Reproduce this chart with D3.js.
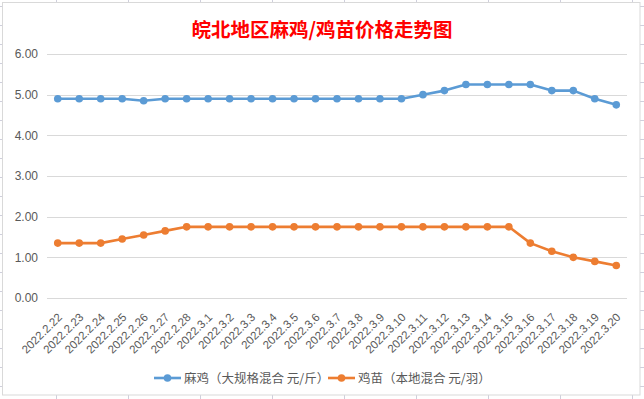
<!DOCTYPE html>
<html>
<head>
<meta charset="utf-8">
<script src="https://cdn.jsdelivr.net/npm/d3@7"></script>
<style>
    body { margin: 0; background: #ffffff; }
    svg text { font-family: "Liberation Sans", Arial, "Noto Sans CJK SC", sans-serif; }
    .grid line { stroke: #d9d9d9; stroke-width: 1; }
    .axisLabel { fill: #595959; font-size: 12px; }
    .legendText { fill: #595959; font-size: 12.5px; font-family: "Noto Sans CJK SC", sans-serif; }
</style>
</head>
<body>
<svg id="chart"></svg>
<script>
var dates = ["2022.2.22", "2022.2.23", "2022.2.24", "2022.2.25", "2022.2.26", "2022.2.27", "2022.2.28",
    "2022.3.1", "2022.3.2", "2022.3.3", "2022.3.4", "2022.3.5", "2022.3.6", "2022.3.7", "2022.3.8",
    "2022.3.9", "2022.3.10", "2022.3.11", "2022.3.12", "2022.3.13", "2022.3.14", "2022.3.15",
    "2022.3.16", "2022.3.17", "2022.3.18", "2022.3.19", "2022.3.20"];
var majiPrices = [4.9, 4.9, 4.9, 4.9, 4.85, 4.9, 4.9,
    4.9, 4.9, 4.9, 4.9, 4.9, 4.9, 4.9, 4.9, 4.9, 4.9,
    5.0, 5.1, 5.25, 5.25, 5.25, 5.25, 5.1, 5.1, 4.9, 4.75];
var jimiaoPrices = [1.35, 1.35, 1.35, 1.45, 1.55, 1.65, 1.75,
    1.75, 1.75, 1.75, 1.75, 1.75, 1.75, 1.75, 1.75, 1.75, 1.75,
    1.75, 1.75, 1.75, 1.75, 1.75, 1.35, 1.15, 1.0, 0.9, 0.8];
var yTicks = [0, 1, 2, 3, 4, 5, 6];
var seriesNames = ["麻鸡（大规格混合 元/斤）", "鸡苗（本地混合 元/羽）"];
var seriesColors = ["#5b9bd5", "#ed7d31"];

var W = 644, H = 399;

var svg = d3.select("#chart")
    .attr("width", W)
    .attr("height", H);

// spreadsheet cells peeking out around the chart
var sheet = svg.append("g").attr("stroke", "#cfcfdc").attr("stroke-width", 1);
d3.range(56.5, W, 72).forEach(function(x) {
    sheet.append("line").attr("x1", x).attr("x2", x).attr("y1", 0).attr("y2", 2);
    sheet.append("line").attr("x1", x).attr("x2", x).attr("y1", 395).attr("y2", H);
});
d3.range(6.5, H, 19).forEach(function(y) {
    sheet.append("line").attr("x1", 0).attr("x2", 2).attr("y1", y).attr("y2", y);
    sheet.append("line").attr("x1", 640).attr("x2", W).attr("y1", y).attr("y2", y);
});

svg.append("rect")
    .attr("x", 2.5)
    .attr("y", 2.5)
    .attr("width", 637.5)
    .attr("height", 392.5)
    .attr("fill", "#ffffff")
    .attr("stroke", "#d9d9d9");

svg.append("text")
    .attr("x", 322)
    .attr("y", 37)
    .attr("text-anchor", "middle")
    .style("font-family", "'Noto Sans CJK SC', sans-serif")
    .style("font-size", "19.5px")
    .style("font-weight", "bold")
    .attr("fill", "#ff0000")
    .text("皖北地区麻鸡/鸡苗价格走势图");

var x = d3.scalePoint()
    .domain(dates)
    .range([47, 627])
    .padding(0.5);

var y = d3.scaleLinear()
    .domain([0, 6])
    .range([298, 54]);

var grid = svg.append("g").attr("class", "grid");
grid.selectAll("line")
    .data(yTicks)
    .enter().append("line")
    .attr("x1", 47)
    .attr("x2", 627)
    .attr("y1", function(d) { return Math.round(y(d)) + 0.5; })
    .attr("y2", function(d) { return Math.round(y(d)) + 0.5; });

var yAxis = d3.axisLeft(y)
    .tickValues(yTicks)
    .tickFormat(d3.format(".2f"))
    .tickSize(0)
    .tickPadding(9);

svg.append("g")
    .attr("transform", "translate(47,0)")
    .call(yAxis)
    .call(function(g) { g.select(".domain").remove(); })
    .selectAll("text")
    .attr("class", "axisLabel")
    .attr("fill", "#595959")
    .style("font-size", "12px");

svg.append("g")
    .selectAll("text")
    .data(dates)
    .enter().append("text")
    .attr("class", "axisLabel")
    .style("font-size", "11.5px")
    .attr("text-anchor", "end")
    .attr("transform", function(d) {
        return "translate(" + (x(d) + 5) + ",318) rotate(-45)";
    })
    .text(function(d) { return d; });

var series = [majiPrices, jimiaoPrices];

var line = d3.line()
    .x(function(d, i) { return x(dates[i]); })
    .y(function(d) { return y(d); });

series.forEach(function(values, s) {
    var g = svg.append("g");
    g.append("path")
        .datum(values)
        .attr("fill", "none")
        .attr("stroke", seriesColors[s])
        .attr("stroke-width", 2.6)
        .attr("stroke-linejoin", "round")
        .attr("d", line);
    g.selectAll("circle")
        .data(values)
        .enter().append("circle")
        .attr("cx", function(d, i) { return x(dates[i]); })
        .attr("cy", function(d) { return y(d); })
        .attr("r", 3.8)
        .attr("fill", seriesColors[s]);
});

var legendX = [154, 328];
var legend = svg.append("g");
seriesNames.forEach(function(name, s) {
    var lg = legend.append("g").attr("transform", "translate(" + legendX[s] + ",378)");
    lg.append("line")
        .attr("x1", 0)
        .attr("x2", 27)
        .attr("stroke", seriesColors[s])
        .attr("stroke-width", 2.6);
    lg.append("circle")
        .attr("cx", 13.5)
        .attr("r", 3.8)
        .attr("fill", seriesColors[s]);
    lg.append("text")
        .attr("class", "legendText")
        .attr("x", 30)
        .attr("y", 4.5)
        .text(name);
});
</script>
</body>
</html>
